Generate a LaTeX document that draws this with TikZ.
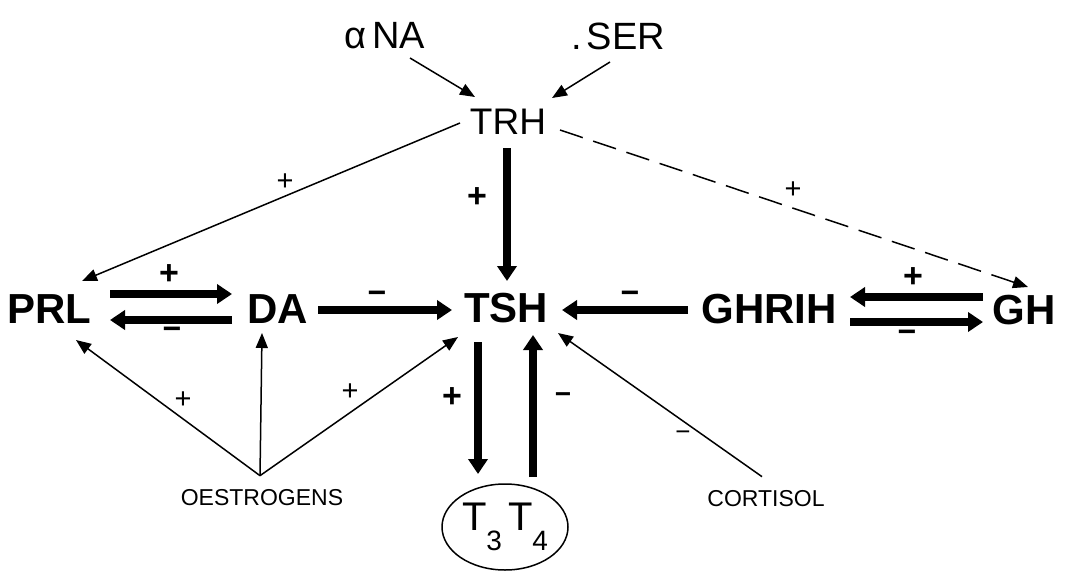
\documentclass[tikz,border=0pt]{standalone}
\usepackage{fontspec}
\setmainfont{Liberation Sans}
\usetikzlibrary{arrows.meta,shapes.geometric,calc}

\newcommand\fsz[1]{\fontsize{#1}{#1}\selectfont}

\tikzset{
  hormone/.style={font=\fsz{42}\bfseries, inner sep=0pt},
  factor/.style={font=\fsz{38}, inner sep=0pt},
  source/.style={font=\fsz{23}, inner sep=0pt},
  sign/.style={font=\fsz{29}, inner sep=0pt},
  midsign/.style={font=\fsz{32}\bfseries, inner sep=0pt},
  boldsign/.style={font=\fsz{34}\bfseries, inner sep=0pt},
  fat/.style={line width=8.5pt, -{Triangle[length=15pt,width=19pt]}},
  thin/.style={line width=1.5pt, -{Triangle[length=15pt,width=12pt]}},
}

\begin{document}
\begin{tikzpicture}[x=1pt,y=-1pt]
  \useasboundingbox[fill=white] (0,0) rectangle (1067,578);

  % substances and hormones
  \node[factor] (aNA) at (385,36) {α\hspace{6pt}NA};
  \node[factor] (SER) at (618,36) {.\hspace{5pt}SER};
  \node[factor, font=\fsz{37}] (TRH) at (508,122) {TRH};
  \node[hormone] (PRL) at (49,309) {PRL};
  \node[hormone] (DA) at (278,309) {DA};
  \node[hormone] (TSH) at (506,308) {TSH};
  \node[hormone] (GHRIH) at (769,309) {GHRIH};
  \node[hormone] (GH) at (1024,310) {GH};
  \node[ellipse, draw, line width=1.5pt, minimum width=126pt, minimum height=86pt,
        inner sep=0pt, font=\fsz{40}] (T34) at (505,527)
        {T\raisebox{-20pt}{\fsz{28}3}\hspace{6pt}T\raisebox{-20pt}{\fsz{28}4}};
  \node[source] (OES) at (262,498) {OESTROGENS};
  \node[source] (CORT) at (766,499) {CORTISOL};

  \coordinate (oes-apex) at ($(OES.north)+(-2,-14)$);
  \coordinate (cort-tail) at ($(CORT.north)+(-4,-14)$);

  % inputs to TRH
  \draw[thin] ($(aNA)+(25,22)$) -- ($(TRH)+(-33,-25)$);
  \draw[thin] ($(SER)+(-8,26)$) -- ($(TRH)+(44,-24)$);

  % TRH actions
  \draw[fat] ($(TRH)+(-1,26)$) -- ($(TSH)+(1,-27)$);
  \draw[thin] ($(TRH)+(-48,1)$) -- ($(PRL)+(33,-28)$);
  \draw[thin, dash pattern=on 24pt off 11pt] ($(TRH)+(52,8)$) -- ($(GH)+(4,-23)$);

  % PRL / DA loop
  \draw[fat] ($(PRL)+(61,-15)$) -- ($(DA)+(-46,-15)$);
  \draw[fat] ($(DA)+(-46,11)$) -- ($(PRL)+(61,11)$);

  % inhibition of TSH
  \draw[fat] ($(DA)+(40,1)$) -- ($(TSH)+(-54,2)$);
  \draw[fat] ($(GHRIH)+(-81,1)$) -- ($(TSH)+(56,2)$);

  % GHRIH / GH loop
  \draw[fat] ($(GH)+(-41,-13)$) -- ($(GHRIH)+(81,-12)$);
  \draw[fat] ($(GHRIH)+(81,13)$) -- ($(GH)+(-41,12)$);

  % TSH and thyroid hormones
  \draw[fat] ($(TSH)+(-28,34)$) -- ($(T34)+(-27,-53)$);
  \draw[fat] ($(T34)+(28,-50)$) -- ($(TSH)+(27,27)$);

  % oestrogens
  \draw[thin] (oes-apex) -- ($(PRL)+(27,31)$);
  \draw[thin] (oes-apex) -- ($(DA)+(-16,24)$);
  \draw[thin] (oes-apex) -- ($(TSH)+(-48,29)$);

  % cortisol
  \draw[thin] (cort-tail) -- ($(TSH)+(52,25)$);

  % signs
  \node[sign] (s-trh-prl) at (285,182) {+};
  \node[sign] (s-trh-gh) at (793,190) {+};
  \node[boldsign] (s-trh-tsh) at (477,198) {+};
  \node[boldsign] (s-prl-da) at (169,275) {+};
  \node[midsign] (s-da-prl) at (172,333) {−};
  \node[midsign] (s-da-tsh) at (377,297) {−};
  \node[midsign] (s-ghrih-tsh) at (630,297) {−};
  \node[boldsign] (s-gh-ghrih) at (913,278) {+};
  \node[midsign] (s-ghrih-gh) at (907,336) {−};
  \node[boldsign] (s-tsh-t) at (452,398) {+};
  \node[font=\fsz{28}\bfseries, inner sep=0pt] (s-t-tsh) at (563,398) {−};
  \node[sign] (s-oes-prl) at (183,400) {+};
  \node[sign] (s-oes-tsh) at (350,392) {+};
  \node[font=\fsz{26}, inner sep=0pt] (s-cort) at (683,436) {−};
\end{tikzpicture}
\end{document}
